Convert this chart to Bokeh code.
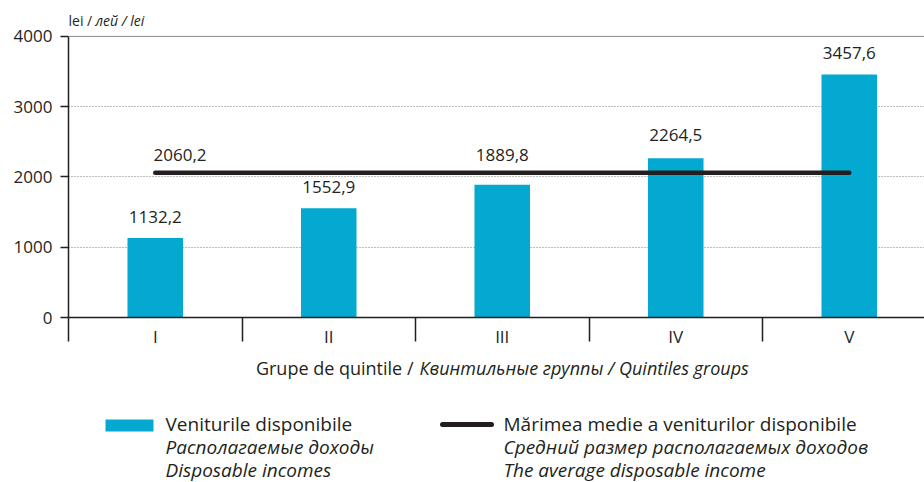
from bokeh.plotting import figure
from bokeh.models import Range1d, FixedTicker, Span, ColumnDataSource
from bokeh.layouts import column
from bokeh.core.properties import value
from bokeh.embed import file_html
from bokeh.resources import INLINE

# ---- data ----
categories = ["I", "II", "III", "IV", "V"]
incomes = [1132.2, 1552.9, 1889.8, 2264.5, 3457.6]
income_labels = ["1132,2", "1552,9", "1889,8", "2264,5", "3457,6"]
mean_income = 2060.2
mean_label = "2060,2"
y_ticks = [0, 1000, 2000, 3000, 4000]
grid_ticks = [1000, 2000, 3000]

# ---- style / layout ----
FONT = "Open Sans"
INK = "#231f20"
BLUE = "#03a9d0"
label_dy = [-21, -21, -30, -23, -22]
W = 924
AXIS_X = 68           # left edge of the frame, where the value axis sits (px)
CAT_PX = 173.5        # width of one category (px)
TOP_PX, ZERO_PX = 6, 318   # frame top and the zero line (px)
Y_MAX = y_ticks[-1]
PX_PER_UNIT = (ZERO_PX - 36) / Y_MAX

x_centers = [i + 0.5 for i in range(len(categories))]
x_bounds = list(range(len(categories) + 1))

x_end = (W - AXIS_X) / CAT_PX
y_end = (ZERO_PX - TOP_PX) / PX_PER_UNIT

p = figure(width=W, height=350, x_range=Range1d(0, x_end), y_range=Range1d(0, y_end),
           output_backend="svg", toolbar_location=None,
           min_border_left=AXIS_X, min_border_right=0, min_border_top=TOP_PX,
           min_border_bottom=350 - ZERO_PX)
p.outline_line_color = None
p.xgrid.visible = False

p.yaxis.bounds = (0, Y_MAX)
p.yaxis.ticker = FixedTicker(ticks=y_ticks)
p.ygrid.ticker = FixedTicker(ticks=grid_ticks)
p.ygrid.grid_line_color = "#7a7a7a"
p.ygrid.grid_line_dash = "1 2"
p.ygrid.grid_line_width = 1

p.yaxis.axis_line_color = INK
p.yaxis.axis_line_width = 1.5
p.yaxis.major_tick_line_color = INK
p.yaxis.major_tick_line_width = 1.5
p.yaxis.major_tick_out = 8
p.yaxis.major_tick_in = 0
p.yaxis.minor_tick_line_color = None
p.yaxis.major_label_standoff = 8
p.yaxis.major_label_text_font = FONT
p.yaxis.major_label_text_font_size = "17px"
p.yaxis.major_label_text_color = INK

p.xaxis.ticker = FixedTicker(ticks=x_centers, minor_ticks=x_bounds)
p.xaxis.major_label_overrides = {c: lab for c, lab in zip(x_centers, categories)}
p.xaxis.axis_line_color = INK
p.xaxis.axis_line_width = 1.5
p.xaxis.major_tick_line_color = None
p.xaxis.major_tick_out = 0
p.xaxis.major_tick_in = 0
p.xaxis.minor_tick_line_color = INK
p.xaxis.minor_tick_line_width = 1.5
p.xaxis.minor_tick_out = 24
p.xaxis.minor_tick_in = 0
p.xaxis.major_label_standoff = -17
p.xaxis.major_label_text_font = FONT
p.xaxis.major_label_text_font_size = "17px"
p.xaxis.major_label_text_color = INK

p.add_layout(Span(location=Y_MAX, dimension="width", line_color="#8a8a8a", line_width=1))

src = ColumnDataSource(dict(x=x_centers, top=incomes, lab=income_labels, dy=label_dy))
p.vbar(x="x", top="top", width=0.32, source=src, fill_color=BLUE, line_color=None)
p.text(x="x", y="top", text="lab", y_offset="dy", source=src, text_align="center",
       text_baseline="middle", text_font=value(FONT), text_font_size="17px", text_color=INK)

p.line(x=[x_centers[0], x_centers[-1]], y=[mean_income, mean_income], line_width=4.5,
       line_color=INK, line_cap="round")
p.text(x=[x_centers[0] - 0.01], y=[mean_income], text=[mean_label], y_offset=-18,
       text_align="left", text_baseline="middle", text_font=value(FONT),
       text_font_size="17px", text_color=INK)

# unit label above the value axis
unit_y = Y_MAX + (36 - 20.5) / PX_PER_UNIT
p.text(x=[0], y=[unit_y], text=["lei /"], text_align="left",
       text_baseline="middle", text_font=value(FONT), text_font_size="14px", text_color=INK)
p.text(x=[(95 - AXIS_X) / CAT_PX], y=[unit_y], text=["лей / lei"], text_align="left",
       text_baseline="middle", text_font=value(FONT), text_font_style="italic",
       text_font_size="14px", text_color=INK)

# ---- lower panel: axis title and legend (page pixel coordinates) ----
lg = figure(width=W, height=132, x_range=Range1d(AXIS_X, W), y_range=Range1d(482, 350),
            output_backend="svg", toolbar_location=None,
            min_border_left=AXIS_X, min_border_right=0, min_border_top=0, min_border_bottom=0,
            x_axis_type=None, y_axis_type=None)
lg.outline_line_color = None
lg.grid.visible = False

def txt(x, y, s, align="left", italic=False, size="19px"):
    lg.text(x=[x], y=[y], text=[s], text_align=align, text_baseline="middle",
            text_font=value(FONT), text_font_size=size,
            text_font_style="italic" if italic else "normal", text_color=INK)

txt(413, 367, "Grupe de quintile /", align="right", size="18px")
txt(419, 367, "Квинтильные группы / Quintiles groups", italic=True, size="18px")

lg.quad(left=[105], right=[153], top=[419], bottom=[431], fill_color=BLUE, line_color=None)
txt(165, 423, "Veniturile disponibile")
txt(165, 446, "Располагаемые доходы", italic=True)
txt(165, 469, "Disposable incomes", italic=True)

lg.line(x=[442, 491], y=[424, 424], line_width=5, line_color=INK, line_cap="round")
txt(503, 423, "Mărimea medie a veniturilor disponibile")
txt(503, 446, "Средний размер располагаемых доходов", italic=True)
txt(503, 469, "The average disposable income", italic=True)

layout = column(p, lg)
open("out.html", "w").write(file_html(layout, INLINE))
